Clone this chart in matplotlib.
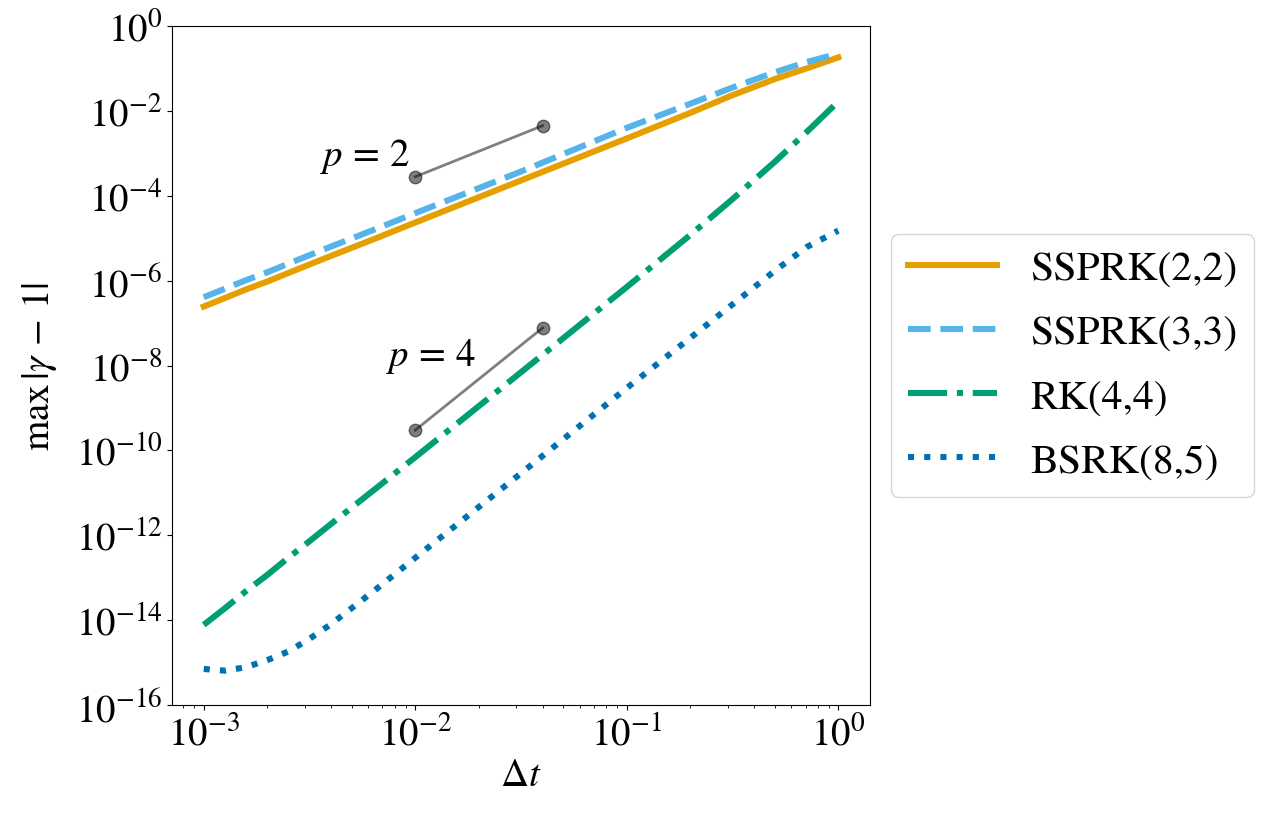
import numpy as np
import matplotlib.pyplot as plt

plt.rcParams['font.family'] = 'STIXGeneral'
plt.rcParams['mathtext.fontset'] = 'stix'
plt.rcParams['font.size'] = 28

# step sizes (shared by all methods)
dt = [1.0e-3, 1.26e-3, 1.58e-3, 2.0e-3, 2.51e-3, 3.16e-3, 3.98e-3, 6.31e-3,
      1.0e-2, 3.16e-2, 1.0e-1, 2.0e-1, 3.16e-1, 5.01e-1, 7.08e-1, 1.0]

# max |gamma - 1|
ssprk22 = [2.45e-7, 3.89e-7, 6.17e-7, 9.55e-7, 1.51e-6, 2.40e-6, 3.80e-6, 9.33e-6,
           2.34e-5, 2.29e-4, 2.24e-3, 9.0e-3, 2.34e-2, 5.62e-2, 1.0e-1, 1.82e-1]
ssprk33 = [4.07e-7, 6.46e-7, 1.02e-6, 1.58e-6, 2.51e-6, 3.98e-6, 6.31e-6, 1.55e-5,
           3.89e-5, 3.72e-4, 3.98e-3, 1.48e-2, 3.55e-2, 8.13e-2, 1.41e-1, 2.24e-1]
rk44 = [7.76e-15, 1.91e-14, 4.79e-14, 1.17e-13, 2.95e-13, 7.24e-13, 1.82e-12, 1.12e-11,
        6.92e-11, 6.92e-9, 7.08e-7, 1.20e-5, 8.32e-5, 6.31e-4, 3.16e-3, 1.66e-2]
bsrk85 = [7.08e-16, 6.46e-16, 7.76e-16, 1.15e-15, 1.82e-15, 3.63e-15, 7.94e-15, 4.68e-14,
          2.95e-13, 2.88e-11, 2.95e-9, 4.5e-8, 2.75e-7, 1.70e-6, 6.17e-6, 1.51e-5]

# slope reference segments
ref_dt = [1e-2, 4e-2]
ref_p2 = [2.8e-4, 4.48e-3]
ref_p4 = [3.0e-10, 7.7e-8]

methods = ['SSPRK(2,2)', 'SSPRK(3,3)', 'RK(4,4)', 'BSRK(8,5)']
colors = ['#E69F00', '#56B4E9', '#009E73', '#0072B2']
styles = ['-', '--', '-.', ':']

fig = plt.figure(figsize=(12.62, 8.28), dpi=100)
ax = fig.add_axes([0.1363, 0.1473, 0.5531, 0.8201])

for vals, name, c, ls in zip([ssprk22, ssprk33, rk44, bsrk85], methods, colors, styles):
    ax.loglog(dt, vals, linestyle=ls, color=c, lw=4.4, label=name)

ax.plot(ref_dt, ref_p2, color='k', alpha=0.5, marker='o', ms=9, lw=2)
ax.plot(ref_dt, ref_p4, color='k', alpha=0.5, marker='o', ms=9, lw=2)
ax.text(0.0095, 8.9e-4, '$p\\, =\\, 2$', ha='right', va='center')
ax.text(0.0193, 1.7e-8, '$p\\, =\\, 4$', ha='right', va='center')

ax.set_ylim(1e-16, 1)
ax.set_yticks([10.0**k for k in range(-16, 1, 2)])
ax.yaxis.set_minor_locator(plt.NullLocator())
ax.set_xlabel('$\\Delta t$')
ax.set_ylabel('$\\max\\,|\\gamma\\, -\\, 1|$', labelpad=12)
ax.legend(loc='center left', bbox_to_anchor=(1.0, 0.5), fontsize=30,
          handlelength=2.15, labelspacing=0.62)

fig.savefig('out.png', dpi=100)
